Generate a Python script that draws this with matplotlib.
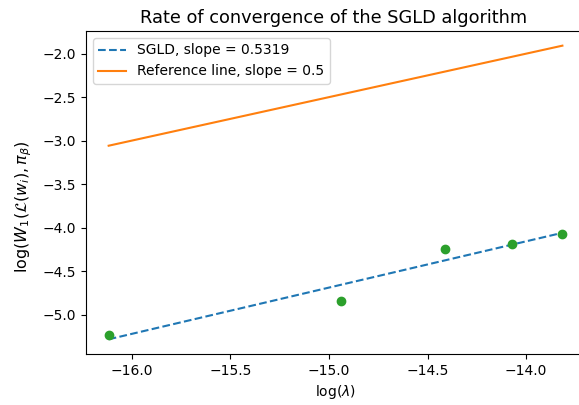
import numpy as np
import matplotlib
matplotlib.use('Agg')
import matplotlib.pyplot as plt

# log(lambda) values of the step sizes
log_lam = [-16.118, -14.939, -14.413, -14.070, -13.816]
# log of the W1 distance measured for each step size
log_w1 = [-5.241, -4.850, -4.242, -4.185, -4.072]

# end points of the fitted line and of the reference line (slope 0.5)
line_x = [-16.118, -13.816]
sgld_fit = [-5.285, -4.060]
ref_line = [-3.058, -1.907]

sgld_slope = 0.5319
ref_slope = 0.5

fig = plt.figure(figsize=(5.79, 4.05), dpi=100)
ax = fig.add_axes([0.1485, 0.126, 0.862, 0.7975])

ax.plot(line_x, sgld_fit, '--', color='C0', label='SGLD, slope = %.4f' % sgld_slope)
ax.plot(line_x, ref_line, '-', color='C1', label='Reference line, slope = %s' % ref_slope)
ax.scatter(log_lam, log_w1, color='C2', zorder=3)

ax.set_title('Rate of convergence of the SGLD algorithm', fontsize=12.8, x=0.497)
ax.set_xlabel(r'$\log(\lambda)$')
ax.set_ylabel(r'$\log(W_1(\mathcal{L}(w_i), \pi_\beta)$', fontsize=11.5)
ax.yaxis.set_label_coords(-0.105, 0.455)
ax.legend(loc='upper left')

fig.savefig('out.png', dpi=100)
